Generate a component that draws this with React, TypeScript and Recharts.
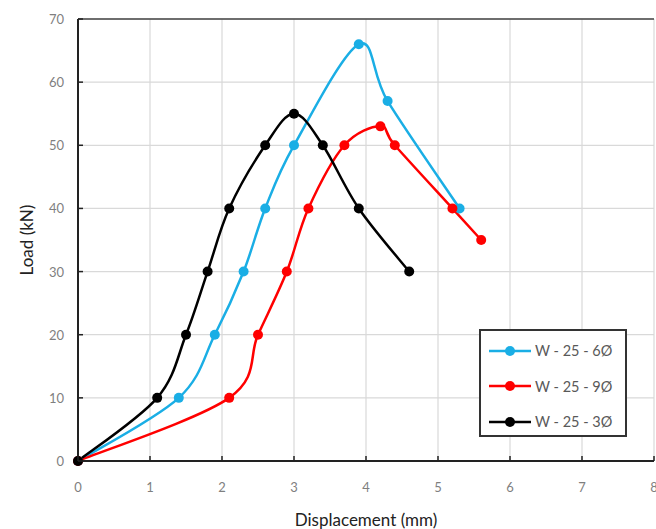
import React from 'react'
import {
  LineChart,
  Line,
  XAxis,
  YAxis,
  CartesianGrid,
  ReferenceLine,
} from 'recharts'

// Load–displacement readings for each specimen
const w6Disp = [0, 1.4, 1.9, 2.3, 2.6, 3.0, 3.9, 4.3, 5.3]
const w6Load = [0, 10, 20, 30, 40, 50, 66, 57, 40]

const w9Disp = [0, 2.1, 2.5, 2.9, 3.2, 3.7, 4.2, 4.4, 5.2, 5.6]
const w9Load = [0, 10, 20, 30, 40, 50, 53, 50, 40, 35]

const w3Disp = [0, 1.1, 1.5, 1.8, 2.1, 2.6, 3.0, 3.4, 3.9, 4.6]
const w3Load = [0, 10, 20, 30, 40, 50, 55, 50, 40, 30]

const xTicks = [0, 1, 2, 3, 4, 5, 6, 7, 8]
const yTicks = [0, 10, 20, 30, 40, 50, 60, 70]

const seriesNames = ['W - 25 - 6Ø', 'W - 25 - 9Ø', 'W - 25 - 3Ø']
const seriesColors = ['#1aaee5', '#ff0000', '#000000']

const toPoints = (xs: number[], ys: number[]) => xs.map((x, i) => ({ x, y: ys[i] }))

const series = [
  { name: seriesNames[0], color: seriesColors[0], data: toPoints(w6Disp, w6Load) },
  { name: seriesNames[1], color: seriesColors[1], data: toPoints(w9Disp, w9Load) },
  { name: seriesNames[2], color: seriesColors[2], data: toPoints(w3Disp, w3Load) },
]

const FONT = 'Lato, "Open Sans", sans-serif'
const TICK_GAP_X = 22
const TICK_GAP_Y = 14

// Excel-style smoothed line (Catmull-Rom through the points as Bezier segments)
const smoothCurve = (context: any) => {
  let pts: number[][] = []
  return {
    areaStart() {},
    areaEnd() {},
    lineStart() {
      pts = []
    },
    point(x: number, y: number) {
      pts.push([+x, +y])
    },
    lineEnd() {
      if (!pts.length) return
      context.moveTo(pts[0][0], pts[0][1])
      for (let i = 0; i < pts.length - 1; i++) {
        const p0 = pts[i - 1] || pts[i]
        const p1 = pts[i]
        const p2 = pts[i + 1]
        const p3 = pts[i + 2] || pts[i + 1]
        context.bezierCurveTo(
          p1[0] + (p2[0] - p0[0]) / 6,
          p1[1] + (p2[1] - p0[1]) / 6,
          p2[0] - (p3[0] - p1[0]) / 6,
          p2[1] - (p3[1] - p1[1]) / 6,
          p2[0],
          p2[1]
        )
      }
    },
  }
}

// x tick: label below, small tick mark pointing up into the plot
const XTick = (props: any) => {
  const { x, y, payload } = props
  const axisY = y - TICK_GAP_X
  return (
    <g>
      <line x1={x} x2={x} y1={axisY} y2={axisY - 5} stroke="#222" strokeWidth={1.5} />
      <text x={x} y={y} dy={9} textAnchor="middle" fill="#7f7f7f" fontSize={13} fontFamily={FONT}>
        {payload.value}
      </text>
    </g>
  )
}

// y tick: label left, small tick mark pointing right into the plot
const YTick = (props: any) => {
  const { x, y, payload } = props
  const axisX = x + TICK_GAP_Y
  return (
    <g>
      <line x1={axisX} x2={axisX + 5} y1={y} y2={y} stroke="#222" strokeWidth={1.5} />
      <text x={x} y={y} dy={5} textAnchor="end" fill="#7f7f7f" fontSize={13} fontFamily={FONT}>
        {payload.value}
      </text>
    </g>
  )
}

// boxed legend sitting inside the plot, lower right
const LegendBox = () => (
  <div
    style={{
      position: 'absolute',
      left: 479,
      top: 329,
      border: '2px solid #333',
      background: '#fff',
      width: 148,
      height: 108,
      boxSizing: 'border-box',
      padding: '2px 0 0 8px',
      fontFamily: FONT,
    }}
  >
    {series.map((s) => (
      <div key={s.name} style={{ display: 'flex', alignItems: 'center', height: 35.5 }}>
        <svg width={44} height={12}>
          <line x1={0} x2={42} y1={6} y2={6} stroke={s.color} strokeWidth={2.5} />
          <circle cx={21} cy={6} r={5} fill={s.color} />
        </svg>
        <span style={{ color: '#595959', fontSize: 14.5, marginLeft: 2 }}>{s.name}</span>
      </div>
    ))}
  </div>
)

export default function App() {
  return (
    <div style={{ position: 'absolute', left: 0, top: 0, width: 656, height: 529, background: '#fff' }}>
      <LineChart width={656} height={529} margin={{ top: 19, right: 2, bottom: 0, left: 0 }}>
        <CartesianGrid stroke="#d9d9d9" strokeWidth={1.2} />
        <XAxis
          type="number"
          dataKey="x"
          domain={[0, 8]}
          ticks={xTicks}
          interval={0}
          height={68}
          tickSize={0}
          tickMargin={TICK_GAP_X}
          tick={<XTick />}
          axisLine={{ stroke: '#222', strokeWidth: 2 }}
          allowDuplicatedCategory={false}
          label={{
            value: 'Displacement (mm)',
            position: 'insideBottom',
            offset: 3,
            fill: '#222',
            fontSize: 17,
            fontFamily: FONT,
          }}
        />
        <YAxis
          type="number"
          dataKey="y"
          domain={[0, 70]}
          ticks={yTicks}
          interval={0}
          width={78}
          tickSize={0}
          tickMargin={TICK_GAP_Y}
          tick={<YTick />}
          axisLine={{ stroke: '#222', strokeWidth: 2 }}
          label={{
            value: 'Load (kN)',
            angle: -90,
            position: 'insideLeft',
            offset: 27,
            fill: '#222',
            fontSize: 17,
            fontFamily: FONT,
            style: { textAnchor: 'middle' },
          }}
        />
        <ReferenceLine y={70} stroke="#444" strokeWidth={1.5} />
        {series.map((s) => (
          <Line
            key={s.name}
            name={s.name}
            data={s.data}
            dataKey="y"
            type={smoothCurve as any}
            stroke={s.color}
            strokeWidth={2.5}
            dot={{ r: 5, fill: s.color, stroke: s.color, strokeWidth: 0 }}
            activeDot={false}
            isAnimationActive={false}
          />
        ))}
      </LineChart>
      <LegendBox />
    </div>
  )
}
